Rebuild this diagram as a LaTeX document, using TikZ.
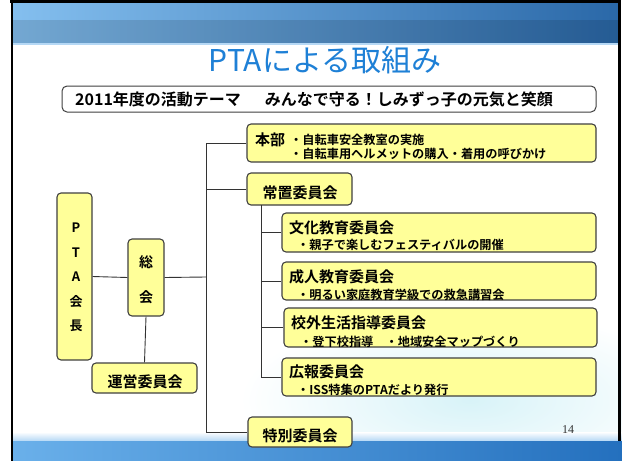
\documentclass[tikz,border=0pt]{standalone}
\usepackage{fontspec}
\setmainfont{Noto Sans CJK JP}[BoldFont={Noto Sans CJK JP Bold}]
\newfontfamily\numfont{Liberation Serif}
\usetikzlibrary{shadings}
\definecolor{boxfill}{HTML}{FFFF99}
\definecolor{boxline}{HTML}{404040}
\definecolor{titleblue}{HTML}{1E80D6}
\definecolor{hdrleft}{HTML}{84BFEF}
\definecolor{hdrright}{HTML}{2A68A8}
\definecolor{bandleft}{HTML}{6AB0EA}
\definecolor{bandright}{HTML}{2470BE}
\definecolor{wash}{HTML}{D8F3F8}
\tikzset{
  ybox/.style={draw=boxline, line width=1.1pt, fill=boxfill, rounded corners=4pt, inner sep=0pt, anchor=center},
  conn/.style={draw=black!80, line width=0.9pt},
  lbl/.style={inner sep=0pt, font=\bfseries\fontsize{15}{18}\selectfont},
  sub/.style={inner sep=0pt, anchor=west, font=\bfseries\fontsize{12.2}{14}\selectfont},
}
\begin{document}
\begin{tikzpicture}[x=1pt,y=-1pt]
\useasboundingbox (0,0) rectangle (622,461);
% background
\fill[white] (0,0) rectangle (622,461);
\shade[inner color=wash, outer color=white] (470,400) ellipse (230 and 90);
\shade[left color=hdrleft, right color=hdrright] (11,3) rectangle (619,43);
\shade[top color=white!0!black, bottom color=black, opacity=0.12] (11,20) rectangle (619,43);
\fill[hdrleft!60!white] (11,43) rectangle (619,45);
\shade[top color=white, bottom color=bandleft!50!white] (11,432) rectangle (622,441);
\shade[left color=bandleft, right color=bandright] (11,441) rectangle (622,461);
\draw[black, line width=3pt] (10,1.5) -- (621,1.5);
\draw[black, line width=2.5pt] (12,0) -- (12,461);
\draw[black, line width=2.5pt] (619.5,0) -- (619.5,441);
% title
\node[inner sep=0pt, text=titleblue, font=\fontsize{30}{34}\selectfont] (title) at (325,60) {PTAによる取組み};
% theme
\node[draw=boxline, line width=1pt, fill=white, rounded corners=5pt, minimum width=534pt, minimum height=26pt, inner sep=0pt] (theme) at (329,99) {};
\node[inner sep=0pt, anchor=west, font=\bfseries\fontsize{16}{18}\selectfont] (themetext) at (75,100) {2011年度の活動テーマ\hspace{1.5em}みんなで守る！しみずっ子の元気と笑顔};
% boxes
\node[ybox, minimum width=349pt, minimum height=38pt] (honbu) at (421.5,143) {};
\node[ybox, minimum width=105pt, minimum height=32pt] (jochi) at (299.5,189) {};
\node[ybox, minimum width=314pt, minimum height=39pt] (bunka) at (439,232.5) {};
\node[ybox, minimum width=314pt, minimum height=38pt] (seijin) at (439,281) {};
\node[ybox, minimum width=313pt, minimum height=39pt] (kogai) at (440.5,327.5) {};
\node[ybox, minimum width=314pt, minimum height=38pt] (koho) at (439,377) {};
\node[ybox, minimum width=104pt, minimum height=30pt] (tokubetsu) at (300,432) {};
\node[ybox, minimum width=35pt, minimum height=167pt] (kaicho) at (74.5,276.5) {};
\node[ybox, minimum width=36pt, minimum height=77pt] (sokai) at (146,277.5) {};
\node[ybox, minimum width=105pt, minimum height=30pt] (unei) at (144.5,378) {};
% connectors
\coordinate (trunk) at (206,277);
\coordinate (subtrunk) at (261,205);
\draw[conn] (kaicho.east) -- (sokai.west);
\draw[conn] (sokai.east) -- (trunk);
\draw[conn] (sokai.south) -- (unei.north);
\draw[conn] (honbu.west) -- (honbu.west -| trunk) -- (tokubetsu.west -| trunk) -- (tokubetsu.west);
\draw[conn] (jochi.west) -- (jochi.west -| trunk);
\draw[conn] (subtrunk) |- (koho.west);
\draw[conn] (bunka.west) -- (bunka.west -| subtrunk);
\draw[conn] (seijin.west) -- (seijin.west -| subtrunk);
\draw[conn] (kogai.west) -- (kogai.west -| subtrunk);
% texts
\node[lbl, anchor=west] (honbut) at (255,140) {本部};
\node[sub] (honbu1) at (290,139.5) {・自転車安全教室の実施};
\node[sub] (honbu2) at (290,153.5) {・自転車用ヘルメットの購入・着用の呼びかけ};
\node[lbl] (jochit) at (300,193) {常置委員会};
\node[lbl, anchor=west] (bunkat) at (289,228) {文化教育委員会};
\node[sub] (bunka1) at (297,245) {・親子で楽しむフェスティバルの開催};
\node[lbl, anchor=west] (seijint) at (289,277) {成人教育委員会};
\node[sub] (seijin1) at (297,295) {・明るい家庭教育学級での救急講習会};
\node[lbl, anchor=west] (kogait) at (291,323) {校外生活指導委員会};
\node[sub] (kogai1) at (300,342) {・登下校指導\hspace{1em}・地域安全マップづくり};
\node[lbl, anchor=west] (kohot) at (289,372) {広報委員会};
\node[sub] (koho1) at (297,390) {・ISS特集のPTAだより発行};
\node[lbl] (tokubetsut) at (300,436) {特別委員会};
\node[lbl] (uneit) at (145,382) {運営委員会};
\node[inner sep=0pt, align=center, font=\bfseries\fontsize{13}{24.4}\selectfont] (kaichot) at (76,277.5) {P\\T\\A\\会\\長};
\node[inner sep=0pt, align=center, font=\bfseries\fontsize{14}{35}\selectfont] (sokait) at (146,279.5) {総\\会};
\node[inner sep=0pt, text=black!80, font=\numfont\fontsize{12}{14}\selectfont] (pagenum) at (568,430) {14};
\end{tikzpicture}
\end{document}
